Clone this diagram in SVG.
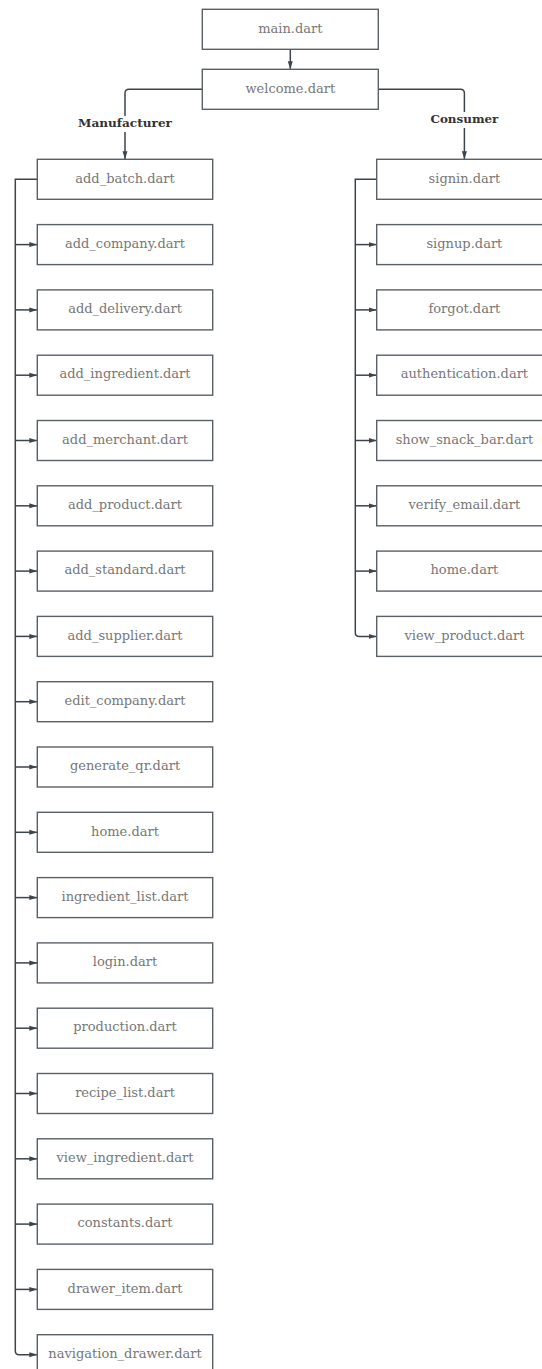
<svg xmlns="http://www.w3.org/2000/svg" width="542" height="1369" viewBox="0 0 542 1369">
<style>
.box{fill:#ffffff;stroke:#5a6068;stroke-width:1.4}
.t{font-family:"DejaVu Serif","Liberation Serif",serif;font-size:13px;fill:#777777;text-anchor:middle}
.lbl{font-family:"DejaVu Serif","Liberation Serif",serif;font-size:11.5px;font-weight:bold;fill:#333333;text-anchor:middle}
.c{fill:none;stroke:#3d444c;stroke-width:1.5}
</style>
<defs>
<marker id="ah" markerUnits="userSpaceOnUse" markerWidth="8" markerHeight="6" refX="8" refY="3" orient="auto">
<path d="M0,0.5 L8,3 L0,5.5 z" fill="#3d444c"/>
</marker>
</defs>
<rect width="542" height="1369" fill="#ffffff"/>
<g id="connectors">
<path class="c" d="M290.3,49.3 V69.3" marker-end="url(#ah)"/>
<path class="c" d="M202.3,89.3 H129 Q125,89.3 125,93.3 V159.3" marker-end="url(#ah)"/>
<path class="c" d="M378.3,89.3 H460.4 Q464.4,89.3 464.4,93.3 V159.3" marker-end="url(#ah)"/>
<path class="c" d="M37.3,179.3 H15.3 V1350.7 Q15.3,1354.7 19.3,1354.7 H37.3" marker-end="url(#ah)"/>
<path class="c" d="M15.3,244.6 H37.3" marker-end="url(#ah)"/>
<path class="c" d="M15.3,309.9 H37.3" marker-end="url(#ah)"/>
<path class="c" d="M15.3,375.2 H37.3" marker-end="url(#ah)"/>
<path class="c" d="M15.3,440.5 H37.3" marker-end="url(#ah)"/>
<path class="c" d="M15.3,505.8 H37.3" marker-end="url(#ah)"/>
<path class="c" d="M15.3,571.1 H37.3" marker-end="url(#ah)"/>
<path class="c" d="M15.3,636.4 H37.3" marker-end="url(#ah)"/>
<path class="c" d="M15.3,701.7 H37.3" marker-end="url(#ah)"/>
<path class="c" d="M15.3,767.0 H37.3" marker-end="url(#ah)"/>
<path class="c" d="M15.3,832.3 H37.3" marker-end="url(#ah)"/>
<path class="c" d="M15.3,897.6 H37.3" marker-end="url(#ah)"/>
<path class="c" d="M15.3,962.9 H37.3" marker-end="url(#ah)"/>
<path class="c" d="M15.3,1028.2 H37.3" marker-end="url(#ah)"/>
<path class="c" d="M15.3,1093.5 H37.3" marker-end="url(#ah)"/>
<path class="c" d="M15.3,1158.8 H37.3" marker-end="url(#ah)"/>
<path class="c" d="M15.3,1224.1 H37.3" marker-end="url(#ah)"/>
<path class="c" d="M15.3,1289.4 H37.3" marker-end="url(#ah)"/>
<path class="c" d="M376.7,179.3 H355.3 V632.4 Q355.3,636.4 359.3,636.4 H376.7" marker-end="url(#ah)"/>
<path class="c" d="M355.3,244.6 H376.7" marker-end="url(#ah)"/>
<path class="c" d="M355.3,309.9 H376.7" marker-end="url(#ah)"/>
<path class="c" d="M355.3,375.2 H376.7" marker-end="url(#ah)"/>
<path class="c" d="M355.3,440.5 H376.7" marker-end="url(#ah)"/>
<path class="c" d="M355.3,505.8 H376.7" marker-end="url(#ah)"/>
<path class="c" d="M355.3,571.1 H376.7" marker-end="url(#ah)"/>
<rect x="76" y="116" width="98" height="16" fill="#ffffff"/>
<text class="lbl" x="125" y="127" textLength="94" lengthAdjust="spacingAndGlyphs">Manufacturer</text>
<rect x="428" y="112" width="73" height="16" fill="#ffffff"/>
<text class="lbl" x="464.4" y="123.3" textLength="68" lengthAdjust="spacingAndGlyphs">Consumer</text>
</g>
<g id="main"><rect class="box" x="202.3" y="9.3" width="176" height="40"/><text class="t" x="290.3" y="32.5">main.dart</text></g>
<g id="welcome"><rect class="box" x="202.3" y="69.3" width="176" height="40"/><text class="t" x="290.3" y="92.5">welcome.dart</text></g>
<g id="m_add_batch"><rect class="box" x="37.3" y="159.3" width="175.4" height="40"/><text class="t" x="125" y="182.5">add_batch.dart</text></g>
<g id="m_add_company"><rect class="box" x="37.3" y="224.6" width="175.4" height="40"/><text class="t" x="125" y="247.8">add_company.dart</text></g>
<g id="m_add_delivery"><rect class="box" x="37.3" y="289.9" width="175.4" height="40"/><text class="t" x="125" y="313.1">add_delivery.dart</text></g>
<g id="m_add_ingredient"><rect class="box" x="37.3" y="355.2" width="175.4" height="40"/><text class="t" x="125" y="378.4">add_ingredient.dart</text></g>
<g id="m_add_merchant"><rect class="box" x="37.3" y="420.5" width="175.4" height="40"/><text class="t" x="125" y="443.7">add_merchant.dart</text></g>
<g id="m_add_product"><rect class="box" x="37.3" y="485.8" width="175.4" height="40"/><text class="t" x="125" y="509.0">add_product.dart</text></g>
<g id="m_add_standard"><rect class="box" x="37.3" y="551.1" width="175.4" height="40"/><text class="t" x="125" y="574.3">add_standard.dart</text></g>
<g id="m_add_supplier"><rect class="box" x="37.3" y="616.4" width="175.4" height="40"/><text class="t" x="125" y="639.6">add_supplier.dart</text></g>
<g id="m_edit_company"><rect class="box" x="37.3" y="681.7" width="175.4" height="40"/><text class="t" x="125" y="704.9">edit_company.dart</text></g>
<g id="m_generate_qr"><rect class="box" x="37.3" y="747.0" width="175.4" height="40"/><text class="t" x="125" y="770.2">generate_qr.dart</text></g>
<g id="m_home"><rect class="box" x="37.3" y="812.3" width="175.4" height="40"/><text class="t" x="125" y="835.5">home.dart</text></g>
<g id="m_ingredient_list"><rect class="box" x="37.3" y="877.6" width="175.4" height="40"/><text class="t" x="125" y="900.8">ingredient_list.dart</text></g>
<g id="m_login"><rect class="box" x="37.3" y="942.9" width="175.4" height="40"/><text class="t" x="125" y="966.1">login.dart</text></g>
<g id="m_production"><rect class="box" x="37.3" y="1008.2" width="175.4" height="40"/><text class="t" x="125" y="1031.4">production.dart</text></g>
<g id="m_recipe_list"><rect class="box" x="37.3" y="1073.5" width="175.4" height="40"/><text class="t" x="125" y="1096.7">recipe_list.dart</text></g>
<g id="m_view_ingredient"><rect class="box" x="37.3" y="1138.8" width="175.4" height="40"/><text class="t" x="125" y="1162.0">view_ingredient.dart</text></g>
<g id="m_constants"><rect class="box" x="37.3" y="1204.1" width="175.4" height="40"/><text class="t" x="125" y="1227.3">constants.dart</text></g>
<g id="m_drawer_item"><rect class="box" x="37.3" y="1269.4" width="175.4" height="40"/><text class="t" x="125" y="1292.6">drawer_item.dart</text></g>
<g id="m_navigation_drawer"><rect class="box" x="37.3" y="1334.7" width="175.4" height="40"/><text class="t" x="125" y="1357.9">navigation_drawer.dart</text></g>
<g id="c_signin"><rect class="box" x="376.7" y="159.3" width="175.4" height="40"/><text class="t" x="464.4" y="182.5">signin.dart</text></g>
<g id="c_signup"><rect class="box" x="376.7" y="224.6" width="175.4" height="40"/><text class="t" x="464.4" y="247.8">signup.dart</text></g>
<g id="c_forgot"><rect class="box" x="376.7" y="289.9" width="175.4" height="40"/><text class="t" x="464.4" y="313.1">forgot.dart</text></g>
<g id="c_authentication"><rect class="box" x="376.7" y="355.2" width="175.4" height="40"/><text class="t" x="464.4" y="378.4">authentication.dart</text></g>
<g id="c_show_snack_bar"><rect class="box" x="376.7" y="420.5" width="175.4" height="40"/><text class="t" x="464.4" y="443.7">show_snack_bar.dart</text></g>
<g id="c_verify_email"><rect class="box" x="376.7" y="485.8" width="175.4" height="40"/><text class="t" x="464.4" y="509.0">verify_email.dart</text></g>
<g id="c_home"><rect class="box" x="376.7" y="551.1" width="175.4" height="40"/><text class="t" x="464.4" y="574.3">home.dart</text></g>
<g id="c_view_product"><rect class="box" x="376.7" y="616.4" width="175.4" height="40"/><text class="t" x="464.4" y="639.6">view_product.dart</text></g>
</svg>
